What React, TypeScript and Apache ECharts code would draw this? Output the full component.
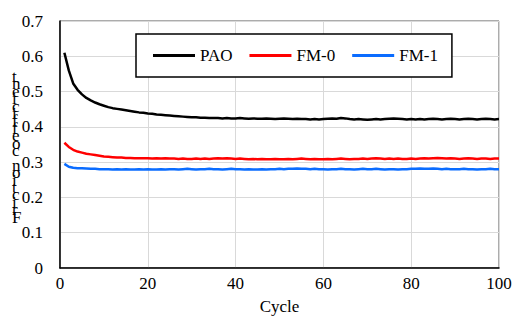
import React, { useEffect, useRef } from "react";
import * as echarts from "echarts";

const cycles: number[] = Array.from({ length: 100 }, (_, i) => i + 1);

const pao: number[] = [
  0.610, 0.560, 0.523, 0.505, 0.492, 0.482, 0.475, 0.469, 0.464, 0.460,
  0.456, 0.453, 0.451, 0.449, 0.447, 0.445, 0.443, 0.441, 0.440, 0.438,
  0.437, 0.435, 0.434, 0.433, 0.432, 0.431, 0.430, 0.429, 0.428, 0.427,
  0.427, 0.426, 0.426, 0.425, 0.425, 0.425, 0.424, 0.425, 0.424, 0.424,
  0.425, 0.424, 0.423, 0.424, 0.423, 0.423, 0.424, 0.423, 0.422, 0.423,
  0.424, 0.423, 0.422, 0.423, 0.422, 0.422, 0.421, 0.422, 0.421, 0.422,
  0.423, 0.424, 0.423, 0.425, 0.424, 0.422, 0.421, 0.422, 0.421, 0.420,
  0.421, 0.422, 0.421, 0.422, 0.423, 0.424, 0.423, 0.422, 0.421, 0.422,
  0.421, 0.422, 0.421, 0.422, 0.423, 0.422, 0.421, 0.422, 0.423, 0.422,
  0.421, 0.422, 0.423, 0.422, 0.421, 0.422, 0.423, 0.422, 0.421, 0.422,
];

const fm0: number[] = [
  0.355, 0.343, 0.335, 0.330, 0.327, 0.324, 0.322, 0.320, 0.318, 0.316,
  0.315, 0.314, 0.313, 0.313, 0.312, 0.312, 0.311, 0.311, 0.311, 0.311,
  0.310, 0.311, 0.310, 0.311, 0.310, 0.310, 0.309, 0.310, 0.309, 0.309,
  0.310, 0.309, 0.310, 0.309, 0.310, 0.311, 0.310, 0.311, 0.310, 0.309,
  0.310, 0.309, 0.308, 0.309, 0.308, 0.309, 0.308, 0.308, 0.309, 0.308,
  0.308, 0.309, 0.308, 0.309, 0.310, 0.309, 0.308, 0.309, 0.308, 0.308,
  0.309, 0.308, 0.309, 0.310, 0.309, 0.308, 0.309, 0.309, 0.310, 0.309,
  0.310, 0.311, 0.310, 0.309, 0.310, 0.309, 0.310, 0.309, 0.309, 0.310,
  0.309, 0.310, 0.311, 0.310, 0.311, 0.312, 0.311, 0.310, 0.311, 0.310,
  0.309, 0.310, 0.311, 0.310, 0.309, 0.310, 0.310, 0.309, 0.310, 0.310,
];

const fm1: number[] = [
  0.295, 0.287, 0.284, 0.283, 0.283, 0.282, 0.281, 0.281, 0.280, 0.280,
  0.280, 0.279, 0.280, 0.279, 0.280, 0.279, 0.279, 0.280, 0.279, 0.280,
  0.279, 0.279, 0.280, 0.279, 0.280, 0.280, 0.279, 0.280, 0.281, 0.280,
  0.279, 0.280, 0.280, 0.281, 0.280, 0.280, 0.279, 0.280, 0.281, 0.280,
  0.280, 0.279, 0.280, 0.279, 0.279, 0.280, 0.279, 0.280, 0.280, 0.281,
  0.280, 0.281, 0.281, 0.282, 0.281, 0.281, 0.280, 0.281, 0.280, 0.280,
  0.279, 0.280, 0.280, 0.281, 0.280, 0.280, 0.279, 0.280, 0.281, 0.280,
  0.280, 0.281, 0.280, 0.279, 0.280, 0.280, 0.279, 0.280, 0.280, 0.281,
  0.281, 0.282, 0.281, 0.281, 0.282, 0.281, 0.280, 0.281, 0.280, 0.280,
  0.280, 0.281, 0.280, 0.280, 0.279, 0.280, 0.280, 0.281, 0.280, 0.280,
];

const seriesNames = ["PAO", "FM-0", "FM-1"];
const seriesColors = ["#000000", "#ff0000", "#0a6cff"];
const yTitle = "Friction coefficient";
const xTitle = "Cycle";

const FONT = "Liberation Serif";

export default function App() {
  const ref = useRef<HTMLDivElement>(null);
  useEffect(() => {
    if (!ref.current) return;
    const chart = echarts.init(ref.current, undefined, { renderer: "svg" });
    const datasets = [pao, fm0, fm1];
    const stacked = yTitle.split("").reverse().join("\n");
    chart.setOption({
      animation: false,
      backgroundColor: "#ffffff",
      textStyle: { fontFamily: FONT },
      grid: {
        left: 60,
        right: 16,
        top: 21,
        bottom: 57,
        show: true,
        borderColor: "#595959",
        borderWidth: 1,
      },
      legend: {
        data: seriesNames,
        left: 136,
        top: 34,
        padding: [13, 14, 13, 17],
        itemGap: 17,
        itemWidth: 42,
        itemHeight: 3,
        icon: "rect",
        backgroundColor: "#ffffff",
        borderColor: "#000000",
        borderWidth: 1.5,
        borderRadius: 0,
        textStyle: { fontFamily: FONT, fontSize: 17, color: "#000" },
      },
      xAxis: {
        type: "value",
        min: 0,
        max: 100,
        interval: 20,
        name: xTitle,
        nameLocation: "middle",
        nameGap: 30,
        nameTextStyle: { fontFamily: FONT, fontSize: 17, color: "#000" },
        axisLine: { show: true, onZero: false, lineStyle: { color: "#000", width: 1.5 } },
        axisTick: { show: false },
        axisLabel: { fontFamily: FONT, fontSize: 17, color: "#000", margin: 7 },
        splitLine: { show: true, lineStyle: { color: "#d9d9d9", width: 1 } },
      },
      yAxis: {
        type: "value",
        min: 0,
        max: 0.7,
        interval: 0.1,
        axisLine: { show: true, lineStyle: { color: "#000", width: 1.5 } },
        axisTick: { show: false },
        axisLabel: {
          fontFamily: FONT,
          fontSize: 17,
          color: "#000",
          margin: 17,
          formatter: (v: number) => (v === 0 ? "0" : v.toFixed(1)),
        },
        splitLine: { show: true, lineStyle: { color: "#d9d9d9", width: 1 } },
      },
      graphic: [
        {
          type: "text",
          left: 12,
          top: 68,
          silent: true,
          z: 100,
          style: {
            text: stacked,
            fontFamily: FONT,
            fontSize: 17,
            lineHeight: 7.4,
            fill: "#000",
            align: "center",
          },
        },
      ],
      series: datasets.map((d, i) => ({
        name: seriesNames[i],
        type: "line",
        data: cycles.map((c, j) => [c, d[j]]),
        showSymbol: false,
        symbol: "none",
        lineStyle: { color: seriesColors[i], width: 2.5 },
        itemStyle: { color: seriesColors[i] },
      })),
    });
    return () => chart.dispose();
  }, []);
  return <div ref={ref} style={{ width: 515, height: 325, position: "absolute", left: 0, top: 0 }} />;
}
